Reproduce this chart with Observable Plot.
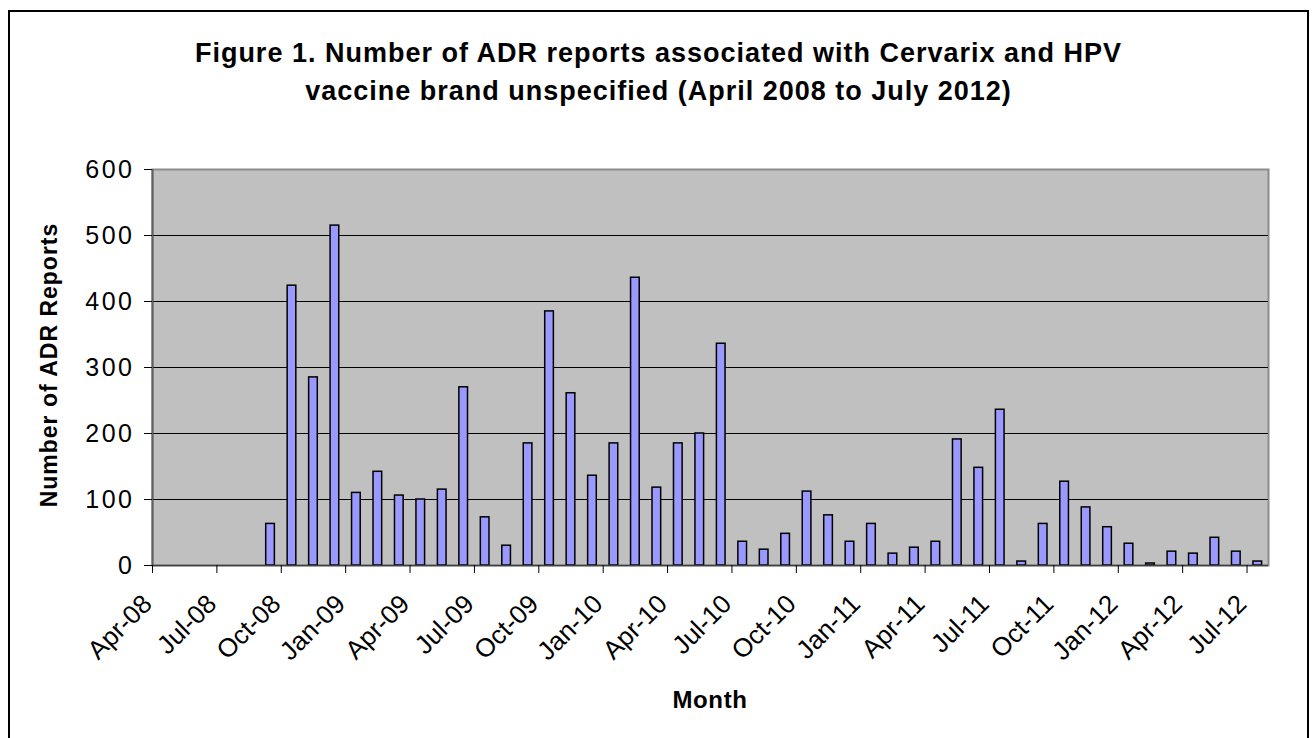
<!DOCTYPE html>
<html>
<head>
<meta charset="utf-8">
<script src="https://cdn.jsdelivr.net/npm/d3@7"></script>
<script src="https://cdn.jsdelivr.net/npm/@observablehq/plot@0.6"></script>
<style>
  html, body { margin: 0; padding: 0; background: #fff; overflow: hidden; }
  #wrap { position: relative; width: 1313px; height: 738px; font-family: "Liberation Sans", Arial, sans-serif; color: #000; }
  #box { position: absolute; left: 8px; top: 10px; width: 1301px; height: 760px; border: 2px solid #000; box-sizing: border-box; }
  #chart { position: absolute; left: 0; top: 0; }
  #title { position: absolute; left: 8px; width: 1301px; top: 34px; text-align: center; font-weight: bold; font-size: 27px; line-height: 38px; letter-spacing: 1px; }
  #ylab { position: absolute; left: 49px; top: 365px; transform: translate(-50%, -50%) rotate(-90deg); white-space: nowrap; font-weight: bold; font-size: 23px; line-height: 1; letter-spacing: 1px; }
  #xlab { position: absolute; left: 710px; top: 688px; transform: translateX(-50%); white-space: nowrap; font-weight: bold; font-size: 24px; line-height: 1; letter-spacing: 0.6px; }
  #chart g[aria-label="y-axis tick label"] text { font-size: 25px !important; letter-spacing: 2.5px; }
</style>
</head>
<body>
<div id="wrap">
  <div id="box"></div>
  <div id="chart"></div>
  <div id="title">Figure 1. Number of ADR reports associated with Cervarix and HPV<br>vaccine brand unspecified (April 2008 to July 2012)</div>
  <div id="ylab">Number of ADR Reports</div>
  <div id="xlab">Month</div>
</div>
<script>
// Month categories (one slot per month, April 2008 to July 2012)
const months = [
  "Apr-08","May-08","Jun-08","Jul-08","Aug-08","Sep-08","Oct-08","Nov-08","Dec-08",
  "Jan-09","Feb-09","Mar-09","Apr-09","May-09","Jun-09","Jul-09","Aug-09","Sep-09","Oct-09","Nov-09","Dec-09",
  "Jan-10","Feb-10","Mar-10","Apr-10","May-10","Jun-10","Jul-10","Aug-10","Sep-10","Oct-10","Nov-10","Dec-10",
  "Jan-11","Feb-11","Mar-11","Apr-11","May-11","Jun-11","Jul-11","Aug-11","Sep-11","Oct-11","Nov-11","Dec-11",
  "Jan-12","Feb-12","Mar-12","Apr-12","May-12","Jun-12","Jul-12"
];
// Number of ADR reports per month
const reports = [
  0, 0, 0, 0, 0, 63, 424, 285, 515,
  110, 142, 106, 100, 115, 270, 73, 30, 185, 385, 261, 136,
  185, 436, 118, 185, 200, 336, 36, 24, 48, 112, 76, 36,
  63, 18, 27, 36, 191, 148, 236, 6, 63, 127, 88, 58,
  33, 3, 21, 18, 42, 21, 6
];
// Tick labels shown on the x axis (every third month)
const xTickLabels = ["Apr-08","Jul-08","Oct-08","Jan-09","Apr-09","Jul-09","Oct-09","Jan-10","Apr-10",
                     "Jul-10","Oct-10","Jan-11","Apr-11","Jul-11","Oct-11","Jan-12","Apr-12","Jul-12"];
const yTicks = [0, 100, 200, 300, 400, 500, 600];
const gridLines = [100, 200, 300, 400, 500];

const data = months.map((m, i) => ({month: m, idx: i, value: reports[i]}));
const xTicks = xTickLabels.map(l => ({idx: months.indexOf(l), label: l}));

const chart = Plot.plot({
  width: 1313,
  height: 738,
  marginLeft: 152,
  marginRight: 45,
  marginTop: 169,
  marginBottom: 173,
  style: {background: "transparent", fontFamily: "'Liberation Sans', Arial, sans-serif", fontSize: "24px", color: "#000", overflow: "visible"},
  x: {type: "linear", domain: [0, months.length]},
  y: {domain: [0, 600]},
  marks: [
    Plot.frame({fill: "#c0c0c0", stroke: "#8c8c8c", strokeWidth: 2}),
    Plot.ruleY(gridLines, {stroke: "#000", strokeWidth: 1}),
    Plot.rectY(data.filter(d => d.value > 0), {
      x1: "idx", x2: d => d.idx + 1, y: "value",
      insetLeft: 6.4, insetRight: 6.4,
      fill: "#9999ff", stroke: "#000", strokeWidth: 1.5
    }),
    Plot.ruleX([0], {stroke: "#606060", strokeWidth: 2}),
    Plot.ruleY([0], {stroke: "#404040", strokeWidth: 1.5}),
    Plot.axisY({ticks: yTicks, tickSize: 8, tickPadding: 10, label: null, tickFormat: d => String(d)}),
    Plot.axisX({ticks: xTicks.map(d => d.idx), tickSize: 8, label: null, tickFormat: () => ""}),
    Plot.text(xTicks, {
      x: "idx", text: "label", frameAnchor: "bottom",
      rotate: -45, textAnchor: "end", lineAnchor: "top",
      dx: -12, dy: 27, fontSize: 26, fill: "#000"
    })
  ]
});
document.getElementById("chart").appendChild(chart);
</script>
</body>
</html>
